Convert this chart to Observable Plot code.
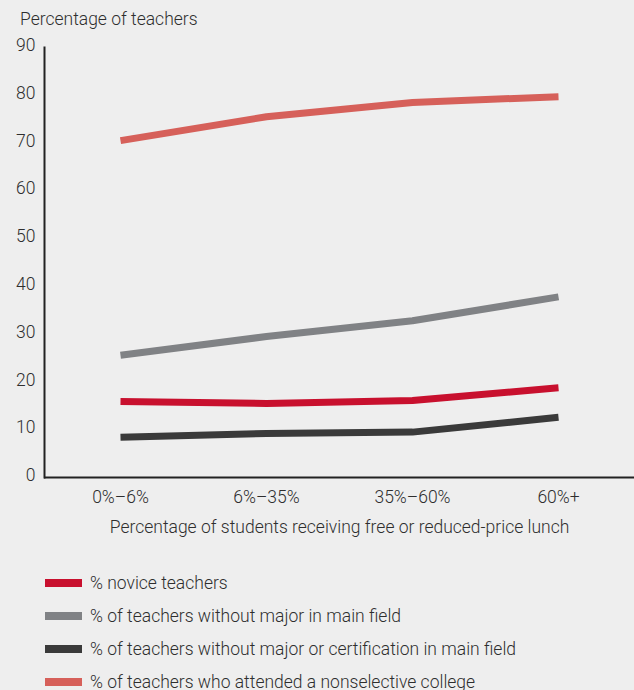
<!DOCTYPE html>
<html>
<head>
<meta charset="utf-8">
<script src="https://cdn.jsdelivr.net/npm/d3@7"></script>
<script src="https://cdn.jsdelivr.net/npm/@observablehq/plot@0.6"></script>
<style>
  html, body { margin: 0; padding: 0; background: #eeeeee; }
  body { width: 634px; height: 690px; overflow: hidden; font-family: Roboto, "Liberation Sans", sans-serif; font-weight: 300; color: #2e2e2e; }
  #title { height: 35px; box-sizing: border-box; padding: 8px 0 0 20px; font-size: 17.5px; line-height: 22px; }
  #chart svg { display: block; }
  #legend { padding: 24px 0 0 45px; }
  .row { height: 33px; display: flex; align-items: center; font-size: 17.5px; }
  .sw { width: 37px; height: 8px; margin-right: 8px; }
</style>
</head>
<body>
<div id="title">Percentage of teachers</div>
<div id="chart"></div>
<div id="legend"></div>
<script>
const categories = ["0%–6%", "6%–35%", "35%–60%", "60%+"];
const seriesNames = [
  "% novice teachers",
  "% of teachers without major in main field",
  "% of teachers without major or certification in main field",
  "% of teachers who attended a nonselective college"
];
const seriesColors = ["#c8102e", "#808285", "#3a3a3a", "#d6605a"];
const novice = [15.9, 15.5, 16.1, 18.8];
const noMajor = [25.6, 29.5, 32.8, 37.8];
const noMajorOrCert = [8.4, 9.2, 9.5, 12.6];
const nonselective = [70.5, 75.5, 78.5, 79.7];
const yTicks = [0, 10, 20, 30, 40, 50, 60, 70, 80, 90];
const xLabel = "Percentage of students receiving free or reduced-price lunch";

const seriesValues = [novice, noMajor, noMajorOrCert, nonselective];
const data = [];
seriesValues.forEach((vals, s) => vals.forEach((v, i) => data.push({series: seriesNames[s], cat: categories[i], value: v})));

const plot = Plot.plot({
  width: 634,
  height: 507,
  marginTop: 12,
  marginLeft: 44,
  marginRight: 0,
  marginBottom: 65,
  style: {background: "transparent", fontFamily: "Roboto, 'Liberation Sans', sans-serif", fontSize: "17.5px", fontWeight: 300, color: "#2e2e2e"},
  x: {type: "point", domain: categories, padding: 0.52},
  y: {domain: [0, 90]},
  color: {domain: seriesNames, range: seriesColors},
  marks: [
    Plot.axisY({ticks: yTicks, tickSize: 0, tickPadding: 9, dy: -2, label: null, fontSize: 17.5}),
    Plot.axisX({tickSize: 0, tickPadding: 13, fontSize: 17.5, label: xLabel, labelAnchor: "center", labelOffset: 55, labelArrow: "none"}),
    Plot.line(data, {x: "cat", y: "value", z: "series", stroke: "series", strokeWidth: 7, strokeLinecap: "butt", strokeLinejoin: "round"}),
    Plot.frame({anchor: "left", stroke: "#222", strokeWidth: 2}),
    Plot.ruleY([0], {stroke: "#222", strokeWidth: 2})
  ]
});
document.getElementById("chart").appendChild(plot);

const legend = document.getElementById("legend");
seriesNames.forEach((name, i) => {
  const row = document.createElement("div");
  row.className = "row";
  const sw = document.createElement("span");
  sw.className = "sw";
  sw.style.background = seriesColors[i];
  const t = document.createElement("span");
  t.textContent = name;
  row.appendChild(sw);
  row.appendChild(t);
  legend.appendChild(row);
});
</script>
</body>
</html>
